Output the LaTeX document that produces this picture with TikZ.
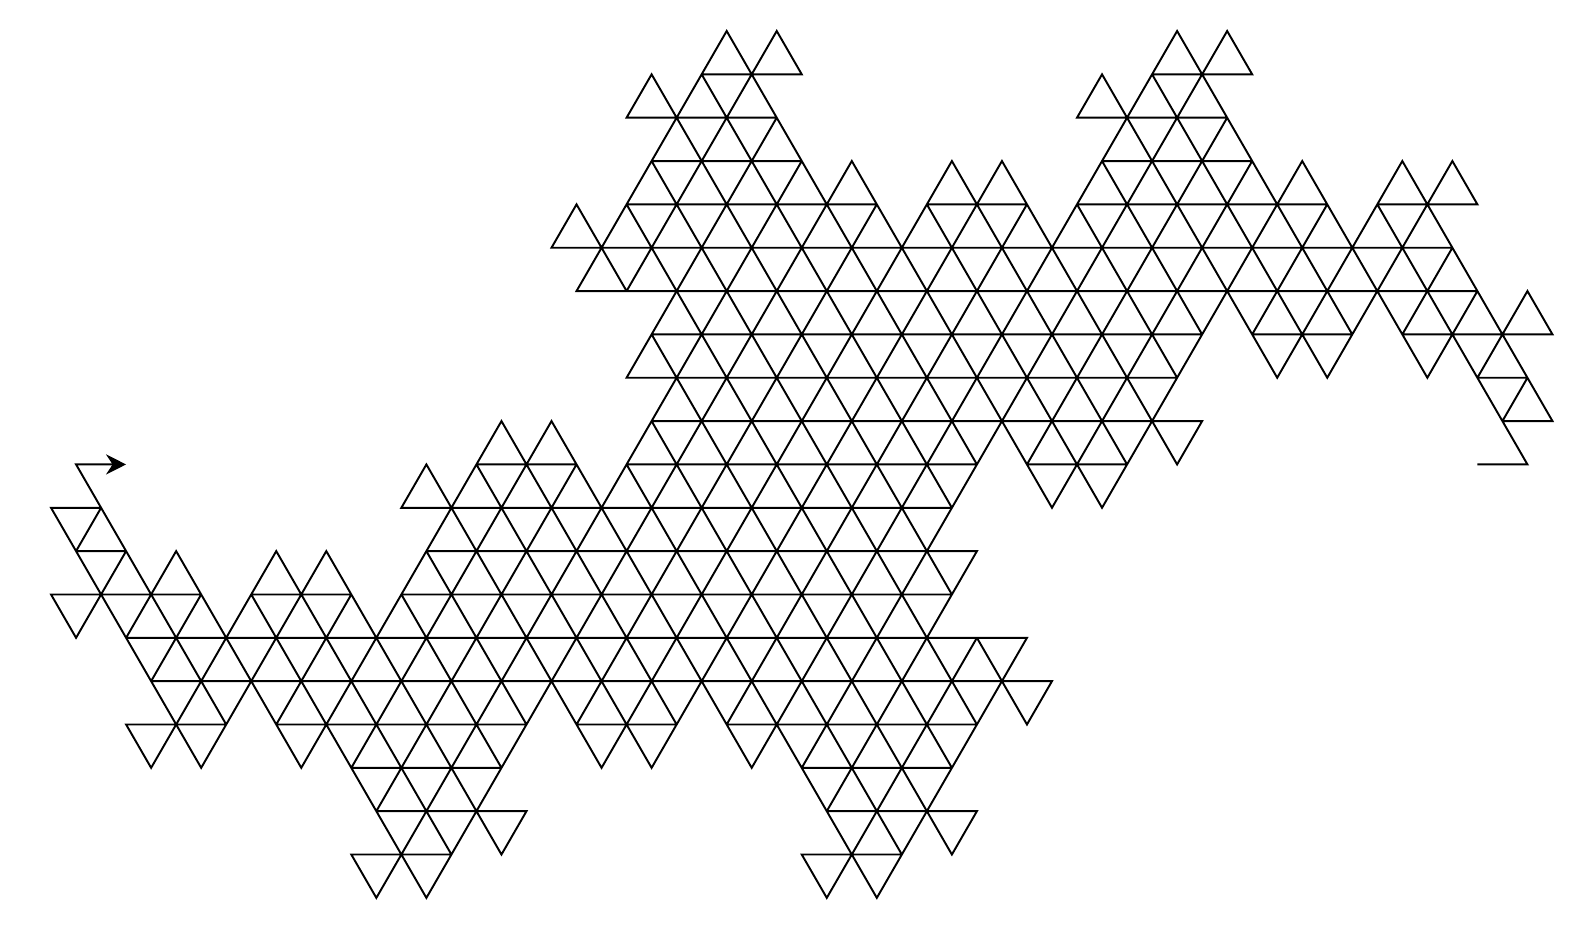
\documentclass[tikz,border=0pt]{standalone}
\usetikzlibrary{lindenmayersystems, arrows.meta}
\pgfdeclarelindenmayersystem{terdragon}{
  \rule{F -> F+F-F}
}
\begin{document}
\begin{tikzpicture}[
    curve/.style={line width=1.1pt, line join=miter, -{Stealth[length=4mm, width=4mm]}},
  ]
  \useasboundingbox (-29.52,-9.34) rectangle (1.97,9.28);
  \draw[curve, lindenmayer system={terdragon, axiom=F, order=6, step=1cm, angle=120}]
    (0,0) lindenmayer system;
\end{tikzpicture}
\end{document}
